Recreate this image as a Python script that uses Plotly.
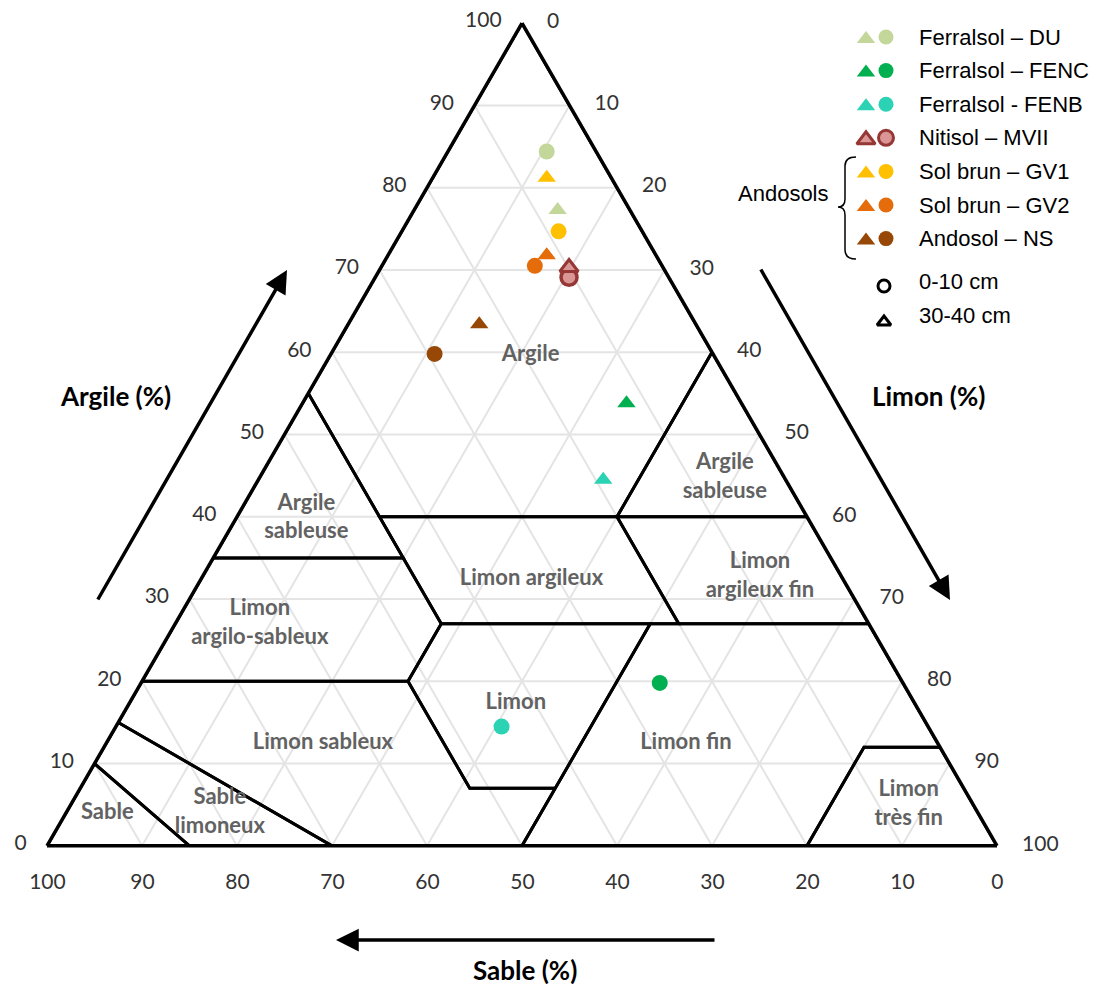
import plotly.graph_objects as go

# ---------------- data ----------------
series = ["Ferralsol – DU", "Ferralsol – FENC", "Ferralsol - FENB", "Nitisol – MVII",
          "Sol brun – GV1", "Sol brun – GV2", "Andosol – NS"]
fill_colors = ["#C4D79B", "#00B050", "#2CD2B4", "#D99694", "#FFC000", "#E46C0A", "#974806"]
line_colors = ["#C4D79B", "#00B050", "#2CD2B4", "#953735", "#FFC000", "#E46C0A", "#974806"]

# 0-10 cm (circles)
clay_0_10 = [84.4, 19.8, 14.5, 69.1, 74.7, 70.5, 59.8]
silt_0_10 = [10.4, 54.6, 40.6, 20.4, 16.5, 16.1, 10.9]
# 30-40 cm (triangles)
clay_30_40 = [77.3, 53.8, 44.5, 70.3, 81.2, 71.8, 63.4]
silt_30_40 = [15.1, 34.1, 36.3, 19.8, 12.0, 16.7, 13.8]

ticks = list(range(0, 101, 10))

# USDA-type texture classes (sand, silt, clay)
classes = {
    "Sable": [(100, 0, 0), (85, 15, 0), (90, 0, 10)],
    "Sable limoneux": [(85, 15, 0), (70, 30, 0), (85, 0, 15), (90, 0, 10)],
    "Limon sableux": [(70, 30, 0), (50, 50, 0), (43, 50, 7), (52, 41, 7), (52, 28, 20), (80, 0, 20), (85, 0, 15)],
    "Limon": [(43, 50, 7), (52, 41, 7), (52, 28, 20), (45, 28, 27), (23, 50, 27)],
    "Limon fin": [(50, 50, 0), (20, 80, 0), (8, 80, 12), (0, 88, 12), (0, 73, 27), (23, 50, 27), (43, 50, 7)],
    "Limon très fin": [(20, 80, 0), (0, 100, 0), (0, 88, 12), (8, 80, 12)],
    "Limon argilo-sableux": [(80, 0, 20), (52, 28, 20), (45, 28, 27), (45, 20, 35), (65, 0, 35)],
    "Limon argileux": [(45, 28, 27), (20, 53, 27), (20, 40, 40), (45, 15, 40), (45, 20, 35)],
    "Limon argileux fin": [(20, 53, 27), (0, 73, 27), (0, 60, 40), (20, 40, 40)],
    "Argile sableuse G": [(65, 0, 35), (45, 20, 35), (45, 15, 40), (45, 0, 55)],
    "Argile sableuse D": [(20, 40, 40), (0, 60, 40), (0, 40, 60)],
    "Argile": [(45, 0, 55), (45, 15, 40), (20, 40, 40), (0, 40, 60), (0, 0, 100)],
}

# label names and positions (clay, silt)
label_text = ["Argile", "Argile<br>sableuse", "Argile<br>sableuse", "Limon argileux",
              "Limon<br>argilo-sableux", "Limon<br>argileux fin", "Limon", "Limon sableux",
              "Limon fin", "Limon<br>très fin", "Sable", "Sable<br>limoneux"]
label_clay = [59.6, 39.8, 44.7, 32.4, 27.0, 32.7, 17.3, 12.5, 12.5, 5.0, 3.9, 4.0]
label_silt = [21.1, 7.4, 49.0, 34.8, 8.9, 58.7, 40.7, 22.8, 61.0, 88.2, 4.4, 16.2]

# ---------------- figure ----------------
OFF = 8                      # page body margin
FW, FH = 1097 - OFF, 985 - OFF
NB = "\u00a0"

fig = go.Figure()

for name, pts in classes.items():
    pts = pts + [pts[0]]
    fig.add_trace(go.Scatterternary(
        a=[p[2] for p in pts], b=[p[0] for p in pts], c=[p[1] for p in pts],
        mode="lines", line=dict(color="black", width=3), hoverinfo="skip", showlegend=False))

fig.add_trace(go.Scatterternary(
    a=label_clay, c=label_silt, b=[100 - a - c for a, c in zip(label_clay, label_silt)],
    mode="text", text=label_text, textposition="middle center",
    textfont=dict(family="Lato", size=22, color="#626262", weight="bold"),
    hoverinfo="skip", showlegend=False))

for i, s in enumerate(series):
    fig.add_trace(go.Scatterternary(
        a=[clay_0_10[i]], c=[silt_0_10[i]], b=[100 - clay_0_10[i] - silt_0_10[i]],
        mode="markers", name=s + " 0-10 cm",
        marker=dict(symbol="circle", size=16, color=fill_colors[i], opacity=1,
                    line=dict(color=line_colors[i], width=3.5 if i == 3 else 0)),
        showlegend=False))
    fig.add_trace(go.Scatterternary(
        a=[clay_30_40[i]], c=[silt_30_40[i]], b=[100 - clay_30_40[i] - silt_30_40[i]],
        mode="markers", name=s + " 30-40 cm",
        marker=dict(symbol="triangle-up", size=16, color=fill_colors[i], opacity=1,
                    line=dict(color=line_colors[i], width=3 if i == 3 else 0)),
        showlegend=False))

# ---- custom legend on an invisible overlay axis (page pixel coordinates) ----
leg_y0, leg_dy = 37, 33.6
for i, s in enumerate(series):
    yy = leg_y0 + leg_dy * i
    for sym, xx, sz, dy in [("triangle-up", 866, 16, 2), ("circle", 886, 15, 0)]:
        fig.add_trace(go.Scatter(x=[xx], y=[yy + dy], mode="markers",
                                 marker=dict(symbol=sym, size=sz, color=fill_colors[i], opacity=1,
                                             line=dict(color=line_colors[i], width=3 if i == 3 else 0)),
                                 hoverinfo="skip", showlegend=False, xaxis="x", yaxis="y"))
    fig.add_annotation(x=917, y=yy, xref="x", yref="y", text=s, showarrow=False,
                       xanchor="left", yanchor="middle",
                       font=dict(family="Liberation Sans", size=22, color="black"))
depth_labels = ["0-10 cm", "30-40 cm"]
depth_symbols = ["circle", "triangle-up"]
for j, lab in enumerate(depth_labels):
    yy = 281 + 34 * j
    fig.add_trace(go.Scatter(x=[884], y=[yy + 5 + 2 * j], mode="markers",
                             marker=dict(symbol=depth_symbols[j], size=12, color="white", opacity=1,
                                         line=dict(color="black", width=3)),
                             hoverinfo="skip", showlegend=False))
    fig.add_annotation(x=917, y=yy, xref="x", yref="y", text=lab, showarrow=False,
                       xanchor="left", yanchor="middle",
                       font=dict(family="Liberation Sans", size=22, color="black"))
fig.add_annotation(x=831, y=193, xref="x", yref="y", text="Andosols", showarrow=False,
                   xanchor="right", yanchor="middle",
                   font=dict(family="Liberation Sans", size=22, color="black"))
fig.add_shape(type="path", xref="x", yref="y",
              path="M 856 157 Q 845 157 845 166 L 845 199 Q 845 207 838 207 Q 845 207 845 215 L 845 250 Q 845 259 856 259",
              line=dict(color="black", width=1.5))

# axis titles and arrows
title_font = dict(family="Lato", size=26, color="black", weight="bold")
fig.add_annotation(x=115, y=396, xref="x", yref="y", text="Argile (%)", showarrow=False, font=title_font)
fig.add_annotation(x=928, y=396, xref="x", yref="y", text="Limon (%)", showarrow=False, font=title_font)
fig.add_annotation(x=525, y=970, xref="x", yref="y", text="Sable (%)", showarrow=False, font=title_font)
for (hx, hy, tx, ty) in [(287, 270, 97, 601), (950, 600, 760, 268), (336, 940, 716, 940)]:
    fig.add_annotation(x=hx, y=hy, ax=tx, ay=ty, xref="x", yref="y", axref="x", ayref="y",
                       text="", showarrow=True, arrowhead=2, arrowsize=1.3, arrowwidth=3.5,
                       arrowcolor="black")

tick_font = dict(family="Lato", size=21, color="#333333")
grid = dict(showgrid=True, gridcolor="#e4e4e4", gridwidth=1.5, linecolor="black",
            linewidth=3.5, min=0, title=dict(text=""), tickmode="array", tickvals=ticks,
            tickfont=tick_font)
aaxis = dict(grid, ticktext=[str(t) for t in ticks],
             ticks="outside", ticklen=16, tickcolor="rgba(0,0,0,0)")
baxis = dict(grid, ticktext=[str(t) + NB * 3 for t in ticks],
             ticks="outside", ticklen=17, tickcolor="rgba(0,0,0,0)")
caxis = dict(grid, ticktext=[NB * 4 + str(t) for t in ticks], ticks="")

fig.update_layout(
    width=FW, height=FH,
    margin=dict(l=0, r=0, t=0, b=0),
    paper_bgcolor="white", plot_bgcolor="rgba(0,0,0,0)",
    showlegend=False,
    ternary=dict(sum=100, bgcolor="white",
                 domain=dict(x=[(47 - OFF) / FW, (997 - OFF) / FW],
                             y=[(985 - 847) / FH, (985 - 22) / FH]),
                 aaxis=aaxis, baxis=baxis, caxis=caxis),
    xaxis=dict(range=[OFF, OFF + FW], visible=False, domain=[0, 1], fixedrange=True),
    yaxis=dict(range=[OFF + FH, OFF], visible=False, domain=[0, 1], fixedrange=True),
)

fig.write_html("out.html")
